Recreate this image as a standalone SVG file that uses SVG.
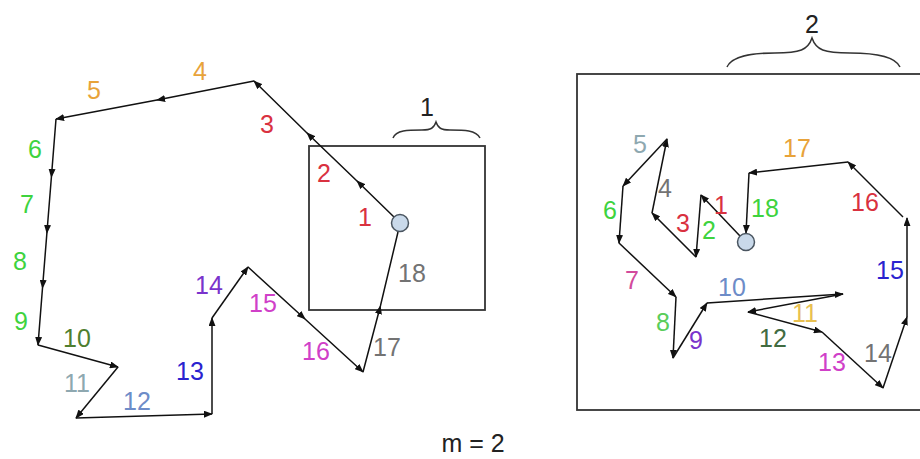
<svg xmlns="http://www.w3.org/2000/svg" width="920" height="459" viewBox="0 0 920 459">
<style>
.e{fill:none;stroke:#111;stroke-width:1.5;marker-end:url(#ah)}
.m{marker-mid:url(#ah)}
.n{marker-end:none}
.box{fill:none;stroke:#333;stroke-width:1.8}
.br{fill:none;stroke:#333;stroke-width:1.5}
.pt{fill:#c9d9ea;stroke:#4a5560;stroke-width:1.5}
text{font-family:"Liberation Sans",Arial,sans-serif;font-size:25px;text-anchor:middle}
.k{fill:#222}
.red{fill:#d9313f}.org{fill:#e8a33a}.grn{fill:#3ed33e}.olv{fill:#4f7f2f}.dgr{fill:#416b41}
.gbl{fill:#8ea8b0}.lbl{fill:#6d8cc8}.blu{fill:#2a22cf}.pur{fill:#7a33cc}.mag{fill:#d040c8}
.pnk{fill:#d24a9c}.gry{fill:#737373}.lor{fill:#e8c050}.lgr{fill:#5acd5a}
</style>
<defs>
<marker id="ah" viewBox="0 0 10 10" refX="9" refY="5" markerUnits="userSpaceOnUse" markerWidth="9" markerHeight="7" orient="auto" preserveAspectRatio="none">
<path d="M0,0 L10,5 L0,10 z" fill="#111"/>
</marker>
</defs>
<rect width="920" height="459" fill="#fff"/>
<g id="frames">
<rect id="box1" class="box" x="309" y="146" width="176" height="164"/>
<rect id="box2" class="box" x="577" y="74" width="350" height="336"/>
<path id="brace1" class="br" d="M393,138 C396,130 408,130 422,130 C431,130 434,128 436,122 C438,128 441,130 450,130 C464,130 476,130 480,138"/>
<path id="brace2" class="br" d="M727,67 C732,56 750,53 775,53 C800,53 808,50 812,38 C816,50 824,53 850,53 C875,53 895,56 900,67"/>
</g>
<g id="connectors">
<path class="e m" d="M394,217 L357,181 L307,133 L254,81"/>
<path class="e m" d="M254,81 L157,100 L56,119"/>
<path class="e m" d="M56,119 L51.4,177 L46.9,233 L42.5,288 L38,345"/>
<path class="e" d="M38,345 L118,367"/>
<path class="e" d="M118,367 L76,418"/>
<path class="e" d="M76,418 L212,414"/>
<path class="e" d="M212,414 L212,318"/>
<path class="e" d="M212,318 L248,267"/>
<path class="e m" d="M248,267 L305,319 L363,372"/>
<path class="e m n" d="M363,372 L380.4,306 L398,232"/>
<path class="e" d="M740,236 L701,195"/>
<path class="e" d="M701,195 L696,257"/>
<path class="e" d="M696,257 L652,213"/>
<path class="e" d="M652,213 L667,139"/>
<path class="e" d="M667,139 L623,186"/>
<path class="e" d="M623,186 L619,243"/>
<path class="e" d="M619,243 L676,297"/>
<path class="e" d="M676,297 L673,358"/>
<path class="e" d="M673,358 L707,303"/>
<path class="e" d="M707,303 L843,294"/>
<path class="e" d="M843,294 L748,312"/>
<path class="e" d="M748,312 L822,332"/>
<path class="e" d="M822,332 L883,388"/>
<path class="e" d="M883,388 L907,317"/>
<path class="e" d="M907,317 L907,218"/>
<path class="e" d="M903,217 L848,162"/>
<path class="e" d="M848,162 L749,173"/>
<path class="e" d="M749,173 L746,233"/>
</g>
<g id="start-left"><circle class="pt" cx="400" cy="223" r="8.5"/></g>
<g id="start-right"><circle class="pt" cx="746" cy="242" r="8.5"/></g>
<g id="labels-left">
<text class="red" x="365" y="226">1</text>
<text class="red" x="324" y="182">2</text>
<text class="red" x="267" y="133">3</text>
<text class="org" x="200" y="80">4</text>
<text class="org" x="94" y="99">5</text>
<text class="grn" x="35" y="158">6</text>
<text class="grn" x="27" y="213">7</text>
<text class="grn" x="20" y="270">8</text>
<text class="grn" x="21" y="330">9</text>
<text class="olv" x="77" y="347">10</text>
<text class="gbl" x="77" y="392">11</text>
<text class="lbl" x="137" y="410">12</text>
<text class="blu" x="190" y="380">13</text>
<text class="pur" x="209" y="294">14</text>
<text class="mag" x="263" y="312">15</text>
<text class="mag" x="316" y="360">16</text>
<text class="gry" x="387" y="356">17</text>
<text class="gry" x="412" y="282">18</text>
</g>
<g id="labels-right">
<text class="red" x="721" y="214">1</text>
<text class="grn" x="709" y="239">2</text>
<text class="red" x="683" y="232">3</text>
<text class="gry" x="665" y="197">4</text>
<text class="gbl" x="640" y="153">5</text>
<text class="grn" x="610" y="219">6</text>
<text class="pnk" x="632" y="289">7</text>
<text class="lgr" x="663" y="331">8</text>
<text class="pur" x="696" y="349">9</text>
<text class="lbl" x="732" y="296">10</text>
<text class="lor" x="805" y="322">11</text>
<text class="dgr" x="773" y="347">12</text>
<text class="mag" x="832" y="371">13</text>
<text class="gry" x="878" y="362">14</text>
<text class="blu" x="890" y="279">15</text>
<text class="red" x="865" y="211">16</text>
<text class="org" x="797" y="157">17</text>
<text class="grn" x="765" y="217">18</text>
</g>
<g id="captions">
<text class="k" x="427" y="116">1</text>
<text class="k" x="812" y="33">2</text>
<text class="k" x="473" y="452">m = 2</text>
</g>
</svg>
